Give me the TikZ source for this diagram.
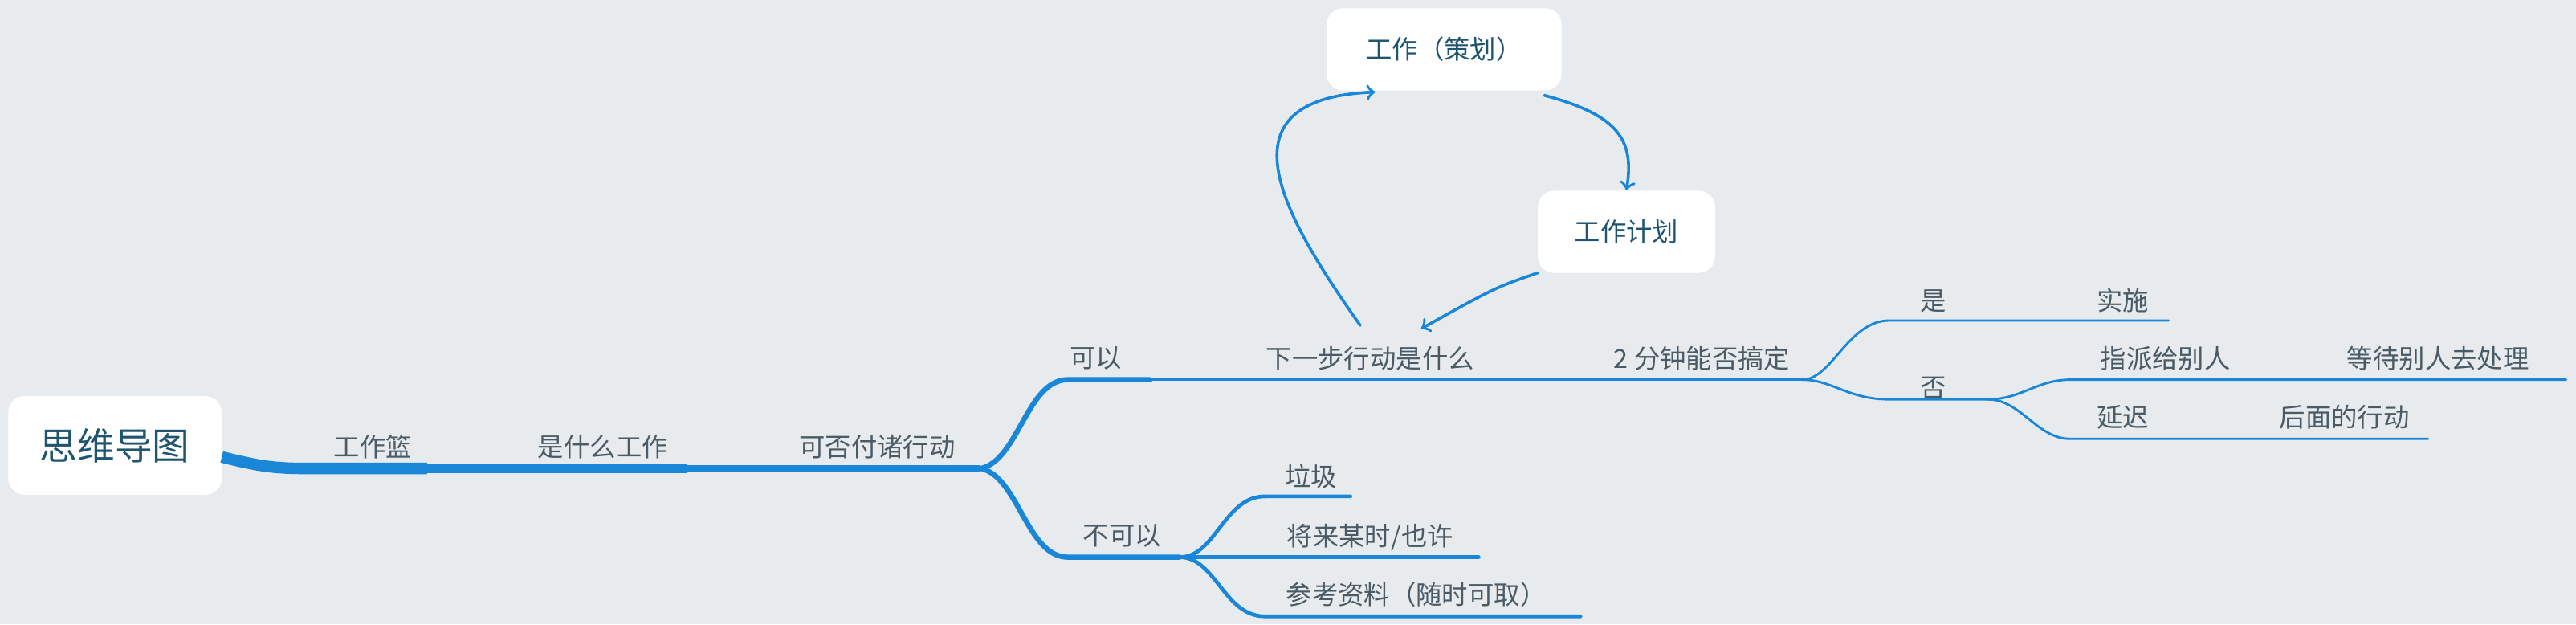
\documentclass[tikz,border=0pt]{standalone}
\usepackage{fontspec}
\setmainfont{Noto Sans CJK SC}
\usetikzlibrary{positioning,calc,arrows}
\definecolor{bgcol}{HTML}{E7EBEE}
\definecolor{linecol}{HTML}{1A86D8}
\definecolor{txtcol}{HTML}{4A5B66}
\definecolor{boxtxt}{HTML}{1F5570}
\tikzset{
topic/.style={text=txtcol,font=\fontsize{9}{11}\selectfont,inner sep=1pt},
bubble/.style={fill=white,rounded corners=0.2cm,text=boxtxt,font=\fontsize{9}{11}\selectfont},
branch/.style={draw=linecol,line width=0.8pt},
}
\begin{document}
\begin{tikzpicture}[x=0.02cm,y=-0.02cm,line cap=round]
\fill[bgcol] (0,0) rectangle (1568,380);
\useasboundingbox (0,0) rectangle (1568,380);
% central topic
\node[bubble,minimum width=2.6cm,minimum height=1.2cm,font=\fontsize{13}{15}\selectfont] (root) at (70,271) {思维导图};
\node[topic] (basket) at (227,272) {工作篮};
\node[topic] (what)   at (367,272) {是什么工作};
\node[topic] (act)    at (534,272) {可否付诸行动};
\coordinate (r0) at (135,278);
\coordinate (a1) at (185,285);
\coordinate (a2) at (260,285);
\coordinate (a3) at (418,285);
\coordinate (a4) at (597,285);
\draw[linecol,line width=4pt,line cap=butt] (r0) .. controls (155,283) and (165,285) .. (a1) -- (a2);
\draw[linecol,line width=3pt,line cap=butt] (a2) -- (a3);
\draw[linecol,line width=2.4pt,line cap=butt] (a3) -- (a4);
% yes branch
\node[topic] (can)  at (667,218) {可以};
\node[topic] (next) at (834,218) {下一步行动是什么};
\node[topic] (two)  at (1036,218) {2 分钟能否搞定};
\coordinate (c1) at (650,231);
\coordinate (c2) at (700,231);
\coordinate (c3) at (1097,231);
\draw[linecol,line width=1.8pt] (a4) .. controls (620,280) and (625,231) .. (c1) -- (c2);
\draw[branch] (c2) -- (c3);
\node[topic] (yes)   at (1177,183) {是};
\node[topic] (doit)  at (1292,183) {实施};
\coordinate (y1) at (1150,195);
\coordinate (y2) at (1320,195);
\draw[branch] (c3) .. controls (1115,231) and (1125,195) .. (y1) -- (y2);
\node[topic] (no)    at (1177,236) {否};
\coordinate (n1) at (1150,243);
\coordinate (n2) at (1210,243);
\draw[branch] (c3) .. controls (1115,231) and (1125,243) .. (n1) -- (n2);
\node[topic] (deleg) at (1318,218) {指派给别人};
\node[topic] (wait)  at (1484,218) {等待别人去处理};
\coordinate (d1) at (1260,231);
\coordinate (d2) at (1562,231);
\draw[branch] (n2) .. controls (1230,243) and (1240,231) .. (d1) -- (d2);
\node[topic] (defer) at (1292,254) {延迟};
\node[topic] (later) at (1427,254) {后面的行动};
\coordinate (f1) at (1260,267);
\coordinate (f2) at (1478,267);
\draw[branch] (n2) .. controls (1230,243) and (1240,267) .. (f1) -- (f2);
% no branch
\node[topic] (cannot) at (683,326) {不可以};
\coordinate (b1) at (650,339);
\coordinate (b2) at (718,339);
\draw[linecol,line width=1.8pt] (a4) .. controls (620,290) and (625,339) .. (b1) -- (b2);
\node[topic] (trash) at (798,290) {垃圾};
\node[topic] (some)  at (834,327) {将来某时/也许};
\node[topic] (ref)   at (862,362) {参考资料（随时可取）};
\coordinate (t1) at (770,302);
\coordinate (t2) at (822,302);
\coordinate (s2) at (900,339);
\coordinate (e1) at (770,375);
\coordinate (e2) at (962,375);
\draw[linecol,line width=1.3pt] (b2) .. controls (740,339) and (745,302) .. (t1) -- (t2);
\draw[linecol,line width=1.3pt] (b2) -- (s2);
\draw[linecol,line width=1.3pt] (b2) .. controls (740,339) and (745,375) .. (e1) -- (e2);
% planning loop
\node[bubble,minimum width=2.86cm,minimum height=1cm] (plan) at (879,30) {工作（策划）};
\node[bubble,minimum width=2.16cm,minimum height=1cm] (sched) at (990,141) {工作计划};
\coordinate (loopend) at (828,198);
\coordinate (loophead) at (865,200);
\draw[linecol,line width=1pt,->,>=to] (loopend) .. controls (780,130) and (740,60) .. (837,56);
\draw[linecol,line width=1pt,->,>=to] (940,58) .. controls (985,70) and (995,85) .. (sched.north);
\draw[linecol,line width=1pt,->,>=to] (936,166) .. controls (910,175) .. (loophead);
\end{tikzpicture}
\end{document}
